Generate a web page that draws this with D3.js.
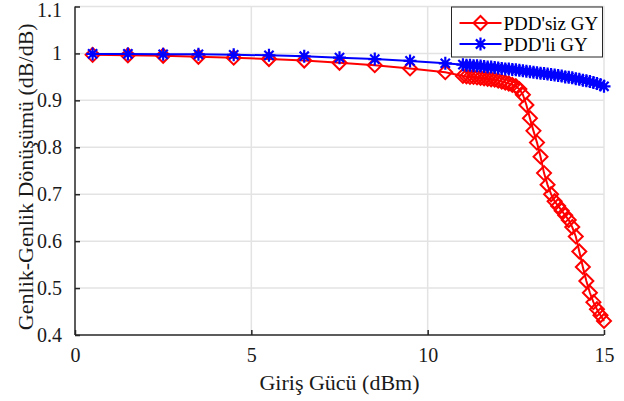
<!DOCTYPE html>
<html>
<head>
<meta charset="utf-8">
<script src="https://cdn.jsdelivr.net/npm/d3@7"></script>
<style>
  body { margin: 0; background: #fff; }
  text { font-family: "Liberation Serif", "Times New Roman", serif; }
</style>
</head>
<body>
<svg id="chart" width="624" height="401"></svg>
<script>
// input power (dBm)
const xSparse = [0.5, 1.5, 2.5, 3.5, 4.5, 5.5, 6.5, 7.5, 8.5, 9.5, 10.5];
const xDense = [11.0, 11.1, 11.2, 11.3, 11.4, 11.5, 11.6, 11.7, 11.8, 11.9,
                12.0, 12.1, 12.2, 12.3, 12.4, 12.5, 12.6, 12.7, 12.8, 12.9,
                13.0, 13.1, 13.2, 13.3, 13.4, 13.5, 13.6, 13.7, 13.8, 13.9,
                14.0, 14.1, 14.2, 14.3, 14.4, 14.5, 14.6, 14.7, 14.8, 14.9, 15.0];

// PDD'siz GY (red)
const redSparse = [0.997, 0.996, 0.995, 0.993, 0.991, 0.988, 0.985, 0.980, 0.975, 0.968, 0.960];
const redDense = [0.952, 0.951, 0.950, 0.950, 0.949, 0.948, 0.947, 0.946, 0.945, 0.944,
                  0.942, 0.940, 0.938, 0.936, 0.933, 0.930, 0.924, 0.912, 0.890, 0.862,
                  0.835, 0.810, 0.780, 0.745, 0.720, 0.700, 0.685, 0.675, 0.665, 0.655,
                  0.645, 0.630, 0.610, 0.578, 0.545, 0.515, 0.490, 0.470, 0.455, 0.442, 0.430];

// PDD'li GY (blue)
const blueSparse = [0.999, 0.999, 0.998, 0.998, 0.997, 0.996, 0.994, 0.991, 0.988, 0.984, 0.979];
const blueDense = [0.976, 0.975, 0.975, 0.974, 0.974, 0.973, 0.972, 0.971, 0.971, 0.970,
                   0.969, 0.968, 0.967, 0.967, 0.966, 0.965, 0.964, 0.963, 0.962, 0.961,
                   0.960, 0.959, 0.958, 0.957, 0.956, 0.955, 0.954, 0.953, 0.952, 0.950,
                   0.949, 0.948, 0.946, 0.945, 0.943, 0.942, 0.940, 0.938, 0.936, 0.933, 0.930];

const xTicks = [0, 5, 10, 15];
const yTicks = [0.4, 0.5, 0.6, 0.7, 0.8, 0.9, 1, 1.1];
const seriesNames = ["PDD'siz GY", "PDD'li GY"];

const svg = d3.select('#chart');

const xScale = d3.scaleLinear()
    .domain([0, 15])
    .range([75, 604]);
const yScale = d3.scaleLinear()
    .domain([0.4, 1.1])
    .range([335, 6.5]);

const serif = '"Liberation Serif", "Times New Roman", serif';

// grid
svg.append('g').selectAll('line').data([5, 10])
    .join('line')
    .attr('x1', d => xScale(d)).attr('x2', d => xScale(d))
    .attr('y1', yScale(0.4)).attr('y2', yScale(1.1))
    .attr('stroke', '#e3e3e3').attr('stroke-width', 1.5);
svg.append('g').selectAll('line').data([0.5, 0.6, 0.7, 0.8, 0.9, 1])
    .join('line')
    .attr('x1', xScale(0)).attr('x2', xScale(15))
    .attr('y1', d => yScale(d)).attr('y2', d => yScale(d))
    .attr('stroke', '#e3e3e3').attr('stroke-width', 1.5);

// top & right box
svg.append('path')
    .attr('d', `M${xScale(0)},${yScale(1.1)}H${xScale(15)}V${yScale(0.4)}`)
    .attr('fill', 'none').attr('stroke', '#e3e3e3').attr('stroke-width', 1.5);

// axes
const xAxis = d3.axisBottom(xScale).tickValues(xTicks).tickSize(-5).tickPadding(12).tickFormat(d3.format('d'));
const yAxis = d3.axisLeft(yScale).tickValues(yTicks).tickSize(-5).tickPadding(12).tickFormat(d => d === 1 ? '1' : d3.format('.1f')(d));

const gx = svg.append('g').attr('transform', `translate(0,${yScale(0.4)})`).call(xAxis);
const gy = svg.append('g').attr('transform', `translate(${xScale(0)},0)`).call(yAxis);
[gx, gy].forEach(g => {
    g.attr('font-family', serif);
    g.select('.domain').attr('stroke', '#262626').attr('stroke-width', 1.5);
    g.selectAll('.tick line').attr('stroke', '#262626').attr('stroke-width', 1.5);
    g.selectAll('.tick text').attr('font-size', 20).attr('fill', '#1a1a1a');
});
gx.select('.domain').attr('d', `M${xScale(0)},0H${xScale(15)}`);
gy.select('.domain').attr('d', `M0,${yScale(0.4)}V${yScale(1.1)}`);
gx.selectAll('.tick text').attr('dy', '0.75em');
gy.selectAll('.tick text').attr('dx', '-1');
// top label sits a little lower so it stays inside the picture
gy.selectAll('.tick text').filter(d => d === 1.1).attr('y', 4);

// axis titles
svg.append('text')
    .attr('x', (xScale(0) + xScale(15)) / 2).attr('y', 390)
    .attr('text-anchor', 'middle').attr('font-size', 22).attr('fill', '#1a1a1a')
    .attr('font-family', serif)
    .text('Giriş Gücü (dBm)');
svg.append('text')
    .attr('transform', `translate(33,${(yScale(0.4) + yScale(1.1)) / 2 + 6}) rotate(-90)`)
    .attr('text-anchor', 'middle').attr('font-size', 22).attr('fill', '#1a1a1a')
    .attr('font-family', serif)
    .text('Genlik-Genlik Dönüşümü (dB/dB)');

const redData = xSparse.concat(xDense).map((x, i) => [x, redSparse.concat(redDense)[i]]);
const blueData = xSparse.concat(xDense).map((x, i) => [x, blueSparse.concat(blueDense)[i]]);

const line = d3.line().x(d => xScale(d[0])).y(d => yScale(d[1]));

function diamond(sel) {
    sel.append('path')
        .attr('d', 'M0,-7L7,0L0,7L-7,0Z')
        .attr('fill', 'none').attr('stroke', '#ff0000').attr('stroke-width', 2);
}
function star(sel) {
    sel.append('path')
        .attr('d', 'M-6.5,0H6.5M0,-6.5V6.5M-4.6,-4.6L4.6,4.6M-4.6,4.6L4.6,-4.6')
        .attr('stroke', '#0000ff').attr('stroke-width', 2.2);
}

// red series
svg.append('path').datum(redData)
    .attr('d', line).attr('fill', 'none')
    .attr('stroke', '#ff0000').attr('stroke-width', 2);
svg.append('g').selectAll('g').data(redData)
    .join('g')
    .attr('transform', d => `translate(${xScale(d[0])},${yScale(d[1])})`)
    .call(diamond);

// blue series
svg.append('path').datum(blueData)
    .attr('d', line).attr('fill', 'none')
    .attr('stroke', '#0000ff').attr('stroke-width', 2);
svg.append('g').selectAll('g').data(blueData)
    .join('g')
    .attr('transform', d => `translate(${xScale(d[0])},${yScale(d[1])})`)
    .call(star);

// legend
const legend = svg.append('g').attr('transform', 'translate(451.5,7)');
legend.append('rect')
    .attr('width', 151).attr('height', 50)
    .attr('fill', '#fff').attr('stroke', '#262626').attr('stroke-width', 1);
const colors = ['#ff0000', '#0000ff'];
seriesNames.forEach((name, i) => {
    const row = legend.append('g').attr('transform', `translate(0,${16 + i * 21})`);
    row.append('line').attr('x1', 8).attr('x2', 50)
        .attr('stroke', colors[i]).attr('stroke-width', 2);
    const m = row.append('g').attr('transform', 'translate(29,0)');
    if (i === 0) diamond(m); else star(m);
    row.append('text').attr('x', 52).attr('y', 6.5)
        .attr('font-size', 19).attr('fill', '#000')
        .attr('font-family', serif).text(name);
});
</script>
</body>
</html>
